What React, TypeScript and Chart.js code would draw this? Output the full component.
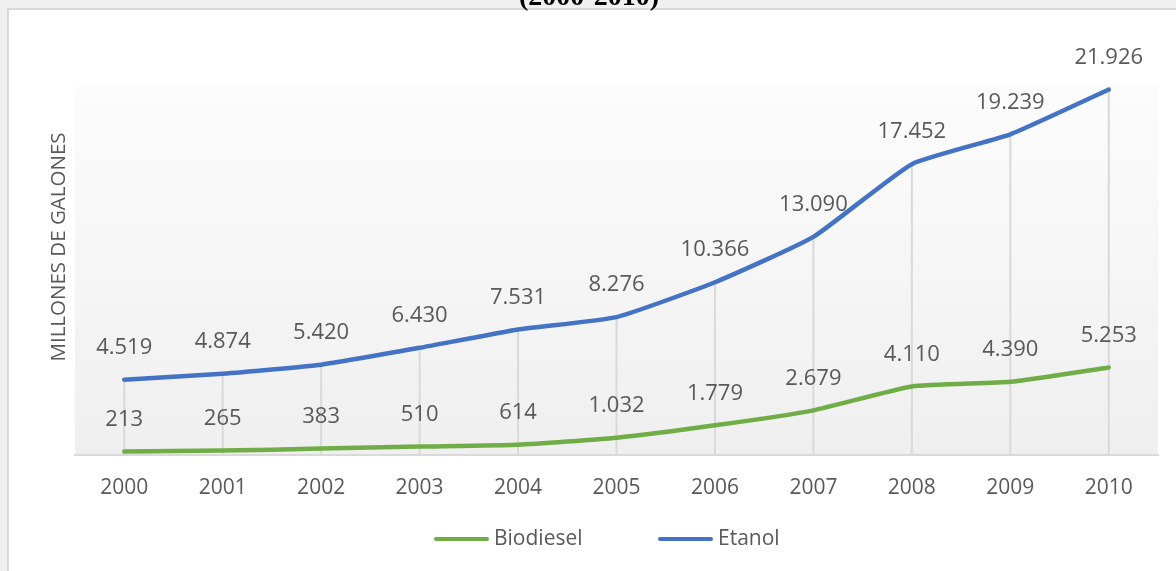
import React, { useEffect, useRef } from "react";
import { Chart, registerables } from "chart.js";

Chart.register(...registerables);

const years = ["2000", "2001", "2002", "2003", "2004", "2005", "2006", "2007", "2008", "2009", "2010"];
const biodiesel = [213, 265, 383, 510, 614, 1032, 1779, 2679, 4110, 4390, 5253];
const etanol = [4519, 4874, 5420, 6430, 7531, 8276, 10366, 13090, 17452, 19239, 21926];
const titleText = "(2000-2010)";
const yTitle = "MILLONES DE GALONES";

const GREEN = "#70AD47";
const BLUE = "#4472C4";
const TEXT = "#595959";
const FONT = "'Open Sans', sans-serif";

function fmt(v: number): string {
  const s = Math.round(v).toString();
  return s.replace(/\B(?=(\d{3})+(?!\d))/g, ".");
}

const decorPlugin = {
  id: "decor",
  beforeDraw(chart: any) {
    const { ctx, width, height, chartArea } = chart;
    ctx.save();
    ctx.fillStyle = "#f0f0f0";
    ctx.fillRect(0, 0, width, height);
    ctx.fillStyle = "#ffffff";
    ctx.fillRect(7, 8, width - 7, height - 8);
    ctx.fillStyle = "#d9d9d9";
    ctx.fillRect(7, 8, width - 7, 2);
    ctx.fillRect(7, 8, 2, height - 8);
    // title (clipped at top)
    ctx.fillStyle = "#000000";
    ctx.font = "bold 28px 'Liberation Serif', serif";
    ctx.textAlign = "center";
    ctx.textBaseline = "alphabetic";
    ctx.fillText(titleText, 589, 5);
    // plot area gradient
    const g = ctx.createLinearGradient(0, chartArea.top, 0, chartArea.bottom);
    g.addColorStop(0, "#fcfcfc");
    g.addColorStop(1, "#efefef");
    ctx.fillStyle = g;
    ctx.fillRect(chartArea.left, chartArea.top, chartArea.right - chartArea.left, chartArea.bottom - chartArea.top);
    // y title
    ctx.save();
    ctx.translate(59, 247);
    ctx.rotate(-Math.PI / 2);
    ctx.fillStyle = TEXT;
    ctx.font = "20.5px " + FONT;
    ctx.textAlign = "center";
    ctx.textBaseline = "middle";
    ctx.fillText(yTitle, 0, 0);
    ctx.restore();
    // legend
    const legend = [
      { label: "Biodiesel", color: GREEN, x: 434 },
      { label: "Etanol", color: BLUE, x: 658 },
    ];
    const ly = 539;
    legend.forEach((it) => {
      ctx.strokeStyle = it.color;
      ctx.lineWidth = 4;
      ctx.lineCap = "round";
      ctx.beginPath();
      ctx.moveTo(it.x + 2, ly);
      ctx.lineTo(it.x + 53, ly);
      ctx.stroke();
      ctx.fillStyle = TEXT;
      ctx.font = "21px " + FONT;
      ctx.textAlign = "left";
      ctx.textBaseline = "middle";
      ctx.fillText(it.label, it.x + 60, ly);
    });
    ctx.restore();
  },
  beforeDatasetsDraw(chart: any) {
    const { ctx, scales, chartArea } = chart;
    ctx.save();
    ctx.strokeStyle = "#d9d9d9";
    ctx.lineWidth = 2;
    years.forEach((_, i) => {
      const x = scales.x.getPixelForValue(i);
      const top = scales.y.getPixelForValue(Math.max(etanol[i], biodiesel[i]));
      ctx.beginPath();
      ctx.moveTo(x, top);
      ctx.lineTo(x, chartArea.bottom);
      ctx.stroke();
    });
    ctx.restore();
  },
  afterDatasetsDraw(chart: any) {
    const { ctx } = chart;
    ctx.save();
    ctx.fillStyle = TEXT;
    ctx.font = "22px " + FONT;
    ctx.textAlign = "center";
    ctx.textBaseline = "middle";
    chart.data.datasets.forEach((ds: any, di: number) => {
      const meta = chart.getDatasetMeta(di);
      meta.data.forEach((pt: any, i: number) => {
        ctx.fillText(fmt(ds.data[i]), pt.x, pt.y - 32);
      });
    });
    ctx.restore();
  },
};

export default function App() {
  const ref = useRef<HTMLCanvasElement>(null);
  useEffect(() => {
    if (!ref.current) return;
    const chart = new Chart(ref.current, {
      type: "line",
      data: {
        labels: years,
        datasets: [
          {
            label: "Biodiesel",
            data: biodiesel,
            borderColor: GREEN,
            backgroundColor: GREEN,
            borderWidth: 4.5,
            pointRadius: 0,
            tension: 0.15,
            borderCapStyle: "round",
          },
          {
            label: "Etanol",
            data: etanol,
            borderColor: BLUE,
            backgroundColor: BLUE,
            borderWidth: 4.5,
            pointRadius: 0,
            tension: 0.15,
            borderCapStyle: "round",
          },
        ],
      },
      plugins: [decorPlugin],
      options: {
        responsive: false,
        animation: false,
        devicePixelRatio: 1,
        layout: { padding: { left: 75, top: 85, right: 18, bottom: 0 } },
        plugins: { legend: { display: false }, tooltip: { enabled: false }, title: { display: false } },
        scales: {
          x: {
            offset: true,
            grid: { display: false, drawTicks: false },
            border: { display: true, color: "#d9d9d9", width: 2 },
            ticks: { color: TEXT, font: { family: "Open Sans", size: 21 }, padding: 20, maxRotation: 0 },
            afterFit(scale: any) {
              scale.height = 116;
            },
          },
          y: {
            display: false,
            min: 0,
            max: 22200,
          },
        },
      },
    } as any);
    return () => chart.destroy();
  }, []);
  return (
    <div style={{ position: "fixed", left: 0, top: 0, width: 1176, height: 571 }}>
      <canvas ref={ref} width={1176} height={571} style={{ display: "block" }} />
    </div>
  );
}
